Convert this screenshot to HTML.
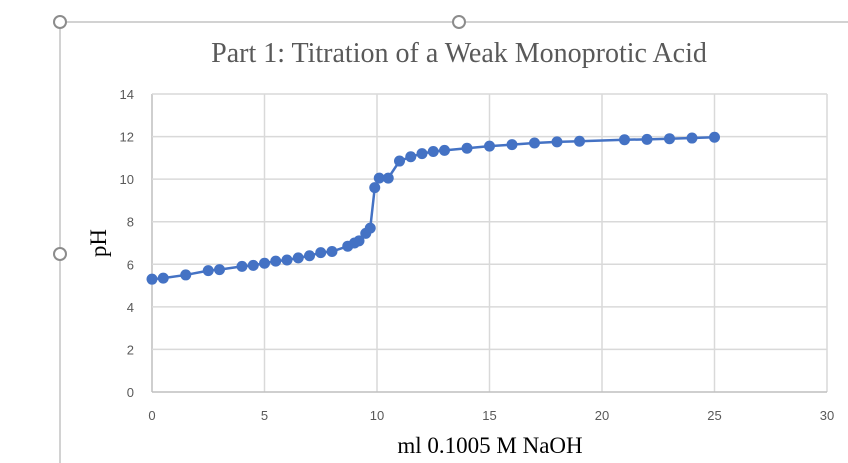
<!DOCTYPE html>
<html><head><meta charset="utf-8"><style>
body{margin:0;background:#fff;width:848px;height:463px;overflow:hidden}
svg{display:block}
</style></head><body>
<svg width="848" height="463">
<line x1="60" y1="22" x2="848" y2="22" stroke="#a6a6a6" stroke-width="1"/>
<line x1="60" y1="22" x2="60" y2="463" stroke="#a6a6a6" stroke-width="1"/>
<circle cx="60" cy="22" r="6" fill="#fff" stroke="#8c8c8c" stroke-width="2"/>
<circle cx="459" cy="22" r="6" fill="#fff" stroke="#8c8c8c" stroke-width="2"/>
<circle cx="60" cy="254" r="6" fill="#fff" stroke="#8c8c8c" stroke-width="2"/>
<text x="459" y="62" text-anchor="middle" font-family="Liberation Serif, serif" font-size="28" fill="#595959">Part 1: Titration of a Weak Monoprotic Acid</text>
<g id="grid"></g><g id="axes"></g><g id="series"></g>
<text transform="translate(106,243) rotate(-90)" text-anchor="middle" font-family="Liberation Serif, serif" font-size="23" fill="#000">pH</text>
<text x="490" y="453" text-anchor="middle" font-family="Liberation Serif, serif" font-size="23" fill="#000">ml 0.1005 M NaOH</text>
</svg>
<script>
const xTicks=[0,5,10,15,20,25,30];
const yTicks=[0,2,4,6,8,10,12,14];
const volumes=[0,0.5,1.5,2.5,3,4,4.5,5,5.5,6,6.5,7,7.5,8,8.7,9,9.2,9.5,9.7,9.9,10.1,10.5,11,11.5,12,12.5,13,14,15,16,17,18,19,21,22,23,24,25];
const phValues=[5.3,5.35,5.5,5.7,5.75,5.9,5.95,6.05,6.15,6.2,6.3,6.4,6.55,6.6,6.85,7.0,7.1,7.45,7.7,9.6,10.05,10.05,10.85,11.05,11.2,11.3,11.35,11.45,11.55,11.62,11.7,11.75,11.78,11.85,11.87,11.9,11.93,11.97];
const NS='http://www.w3.org/2000/svg';
const X=v=>152+v*(827-152)/30;
const Y=v=>392-v*(392-94)/14;
function mk(t,a,p){const e=document.createElementNS(NS,t);for(const k in a)e.setAttribute(k,a[k]);p.appendChild(e);return e;}
const grid=document.getElementById('grid'),axes=document.getElementById('axes'),ser=document.getElementById('series');
xTicks.forEach(t=>{
 const l=mk('line',{x1:X(t),x2:X(t),y1:Y(14),y2:Y(0),stroke:t===0?'#bfbfbf':'#d9d9d9','stroke-width':1.5},grid);
 
 
 const tx=mk('text',{x:X(t),y:420,'text-anchor':'middle','font-family':'Liberation Sans, sans-serif','font-size':13,fill:'#595959'},axes);
 tx.textContent=t;
 
 
});
yTicks.forEach(t=>{
 const l=mk('line',{x1:X(0),x2:X(30),y1:Y(t),y2:Y(t),stroke:t===0?'#bfbfbf':'#d9d9d9','stroke-width':1.5},grid);
 
 
 const tx=mk('text',{x:134,y:Y(t)+5,'text-anchor':'end','font-family':'Liberation Sans, sans-serif','font-size':13,fill:'#595959'},axes);
 tx.textContent=t;
 
 
});
const pl=mk('polyline',{points:volumes.map((v,i)=>X(v)+','+Y(phValues[i])).join(' '),fill:'none',stroke:'#4472c4','stroke-width':2.5},ser);


volumes.forEach((v,i)=>{
 const c=mk('circle',{cx:X(v),cy:Y(phValues[i]),r:5.5,fill:'#4472c4'},ser);
 
 
});
</script>
</body></html>
